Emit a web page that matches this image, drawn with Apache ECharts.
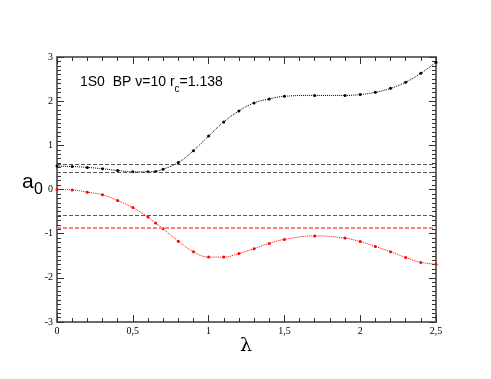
<!DOCTYPE html>
<html>
<head>
<meta charset="utf-8">
<script src="https://cdn.jsdelivr.net/npm/echarts@6/dist/echarts.min.js"></script>
<style>
  html, body { margin: 0; padding: 0; background: #fff; }
  #chart { width: 491px; height: 379px; }
</style>
</head>
<body>
<div id="chart"></div>
<script>
// lambda values where a0 was computed
const lambdas = [0, 0.1, 0.2, 0.3, 0.4, 0.5, 0.6, 0.65, 0.7, 0.8, 0.9, 1.0, 1.1, 1.2, 1.3, 1.4, 1.5, 1.7, 1.9, 2.0, 2.1, 2.2, 2.3, 2.4, 2.5]
const a0Black = [0.53, 0.52, 0.50, 0.47, 0.43, 0.40, 0.40, 0.41, 0.46, 0.61, 0.88, 1.21, 1.53, 1.78, 1.96, 2.05, 2.11, 2.13, 2.13, 2.15, 2.20, 2.29, 2.43, 2.63, 2.88]
const a0Red = [0.00, -0.01, -0.06, -0.12, -0.25, -0.41, -0.62, -0.76, -0.89, -1.17, -1.41, -1.53, -1.53, -1.45, -1.34, -1.22, -1.13, -1.05, -1.10, -1.18, -1.29, -1.41, -1.54, -1.65, -1.69]
// horizontal reference levels
const blackLevels = [0.58, 0.40]
const redLevels = [-0.58, -0.87]

const frame = '#6b6b6b'
const labelFont = { fontFamily: 'Liberation Serif', fontSize: 10, color: '#000' }

const pairs = ys => lambdas.map((x, i) => [x, ys[i]])

function xAx(pos, show) {
  return {
    type: 'value', position: pos, min: 0, max: 2.5, interval: 0.5,
    axisLine: { onZero: false, lineStyle: { color: frame, width: 2 } },
    axisTick: { inside: true, length: 7, lineStyle: { color: '#333' } },
    minorTick: { show: true, splitNumber: 5, length: 4, lineStyle: { color: '#333' } },
    splitLine: { show: false },
    axisLabel: Object.assign({ show: show, margin: 4,
      formatter: v => String(v).replace('.', ',') }, labelFont)
  }
}
function yAx(pos, show) {
  return {
    type: 'value', position: pos, min: -3, max: 3, interval: 1,
    axisLine: { onZero: false, lineStyle: { color: frame, width: 2 } },
    axisTick: { inside: true, length: 7, lineStyle: { color: '#333' } },
    minorTick: { show: true, splitNumber: 10, length: 4, lineStyle: { color: '#333' } },
    splitLine: { show: false },
    axisLabel: Object.assign({ show: show, margin: 4 }, labelFont)
  }
}

const chart = echarts.init(document.getElementById('chart'))
chart.setOption({
  animation: false,
  grid: { left: 57, right: 55, top: 57, bottom: 57 },
  xAxis: [xAx('bottom', true), xAx('top', false)],
  yAxis: [yAx('left', true), yAx('right', false)],
  graphic: [
    { type: 'text', left: 80, top: 75, style: {
        text: '{m|1S0  BP \u03bd=10 r}{s|c}{m|=1.138}',
        rich: {
          m: { fontFamily: 'Liberation Sans', fontSize: 14, fill: '#000', verticalAlign: 'top' },
          s: { fontFamily: 'Liberation Sans', fontSize: 10, fill: '#000', padding: [9, 0, 0, 0], verticalAlign: 'top' }
        } } },
    { type: 'text', left: 22, top: 172, style: { text: 'a', font: '21px "Liberation Sans"', fill: '#000' } },
    { type: 'text', left: 34, top: 182, style: { text: '0', font: '16px "Liberation Sans"', fill: '#000' } },
    { type: 'text', left: 240, top: 337, style: { text: '\u03bb', font: '19px "DejaVu Serif"', fill: '#000' } }
  ],
  series: [
    {
      type: 'line', data: pairs(a0Black), smooth: 0.4,
      symbol: 'circle', symbolSize: 3,
      itemStyle: { color: '#000' },
      lineStyle: { color: '#000', width: 1, type: 'dotted' },
      markLine: {
        silent: true, symbol: 'none', label: { show: false },
        lineStyle: { color: '#555', width: 1, type: [4, 2] },
        data: blackLevels.map(v => ({ yAxis: v }))
      }
    },
    {
      type: 'line', data: pairs(a0Red), smooth: 0.4,
      symbol: 'circle', symbolSize: 3,
      itemStyle: { color: '#ff0000' },
      lineStyle: { color: '#ff0000', width: 1, type: 'dotted' },
      markLine: {
        silent: true, symbol: 'none', label: { show: false },
        lineStyle: { color: '#c82828', width: 1, type: [4, 2] },
        data: [{ yAxis: redLevels[0] }]
      }
    },
    {
      type: 'line', data: [],
      markLine: {
        silent: true, symbol: 'none', label: { show: false },
        lineStyle: { color: '#ff8080', width: 2, type: [4, 2] },
        data: [{ yAxis: redLevels[1] }]
      }
    }
  ]
})
</script>
</body>
</html>
